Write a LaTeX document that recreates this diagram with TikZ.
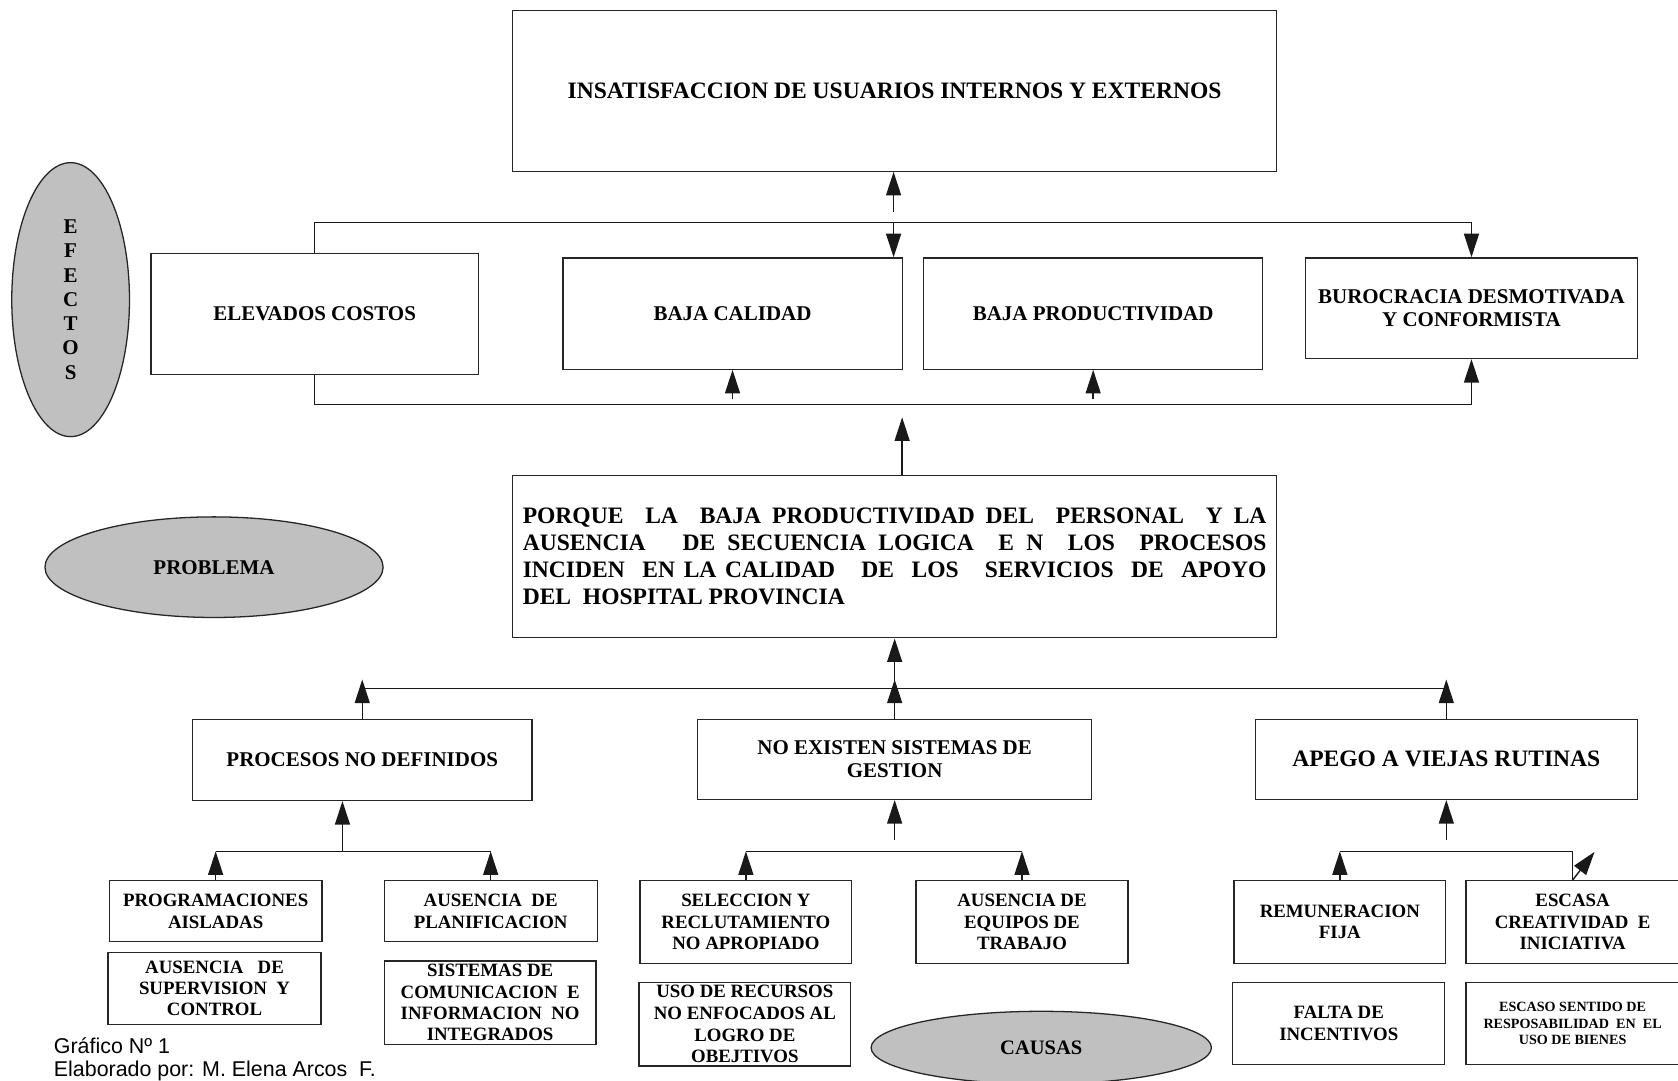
\documentclass[tikz,border=0pt]{standalone}
\usepackage{fontspec}
\setmainfont{Liberation Serif}
\newfontfamily\footfont{Liberation Sans}
\usetikzlibrary{arrows.meta,shapes.geometric}
\definecolor{shade}{RGB}{192,192,192}
\begin{document}
\begin{tikzpicture}[x=0.5pt,y=-0.5pt,
  box/.style={draw=black!85, line width=0.6pt, inner sep=0pt, align=center},
  sz/.style 2 args={minimum width=#1, minimum height=#2},
  oval/.style={ellipse, draw=black!85, line width=0.6pt, fill=shade, inner sep=0pt, align=center},
  wire/.style={draw=black!90, line width=0.65pt},
  arr/.style={wire, -{Triangle[length=11pt,width=7pt]}},
  fA/.style={font=\fontsize{9.8}{11}\selectfont\bfseries},
  fB/.style={font=\fontsize{11}{12.5}\selectfont\bfseries},
  fC/.style={font=\fontsize{8.8}{10}\selectfont\bfseries},
  fD/.style={font=\fontsize{6.6}{7.75}\selectfont\bfseries},
  foot/.style={anchor=base west, inner sep=0pt, font=\footfont\fontsize{10}{12}\selectfont},
]
\useasboundingbox (0,0) rectangle (1568,1010);
\fill[white] (0,0) rectangle (1568,1010);

% ---------- effects ----------
\node[box, fB, sz={357pt}{75pt}] (top) at (836,85) {INSATISFACCION DE USUARIOS INTERNOS Y EXTERNOS};

\node[oval, minimum width=55pt, minimum height=128pt,
      font=\fontsize{9.8}{11.33}\selectfont\bfseries] (efe) at (66,280) {E\\F\\E\\C\\T\\O\\S};

\node[box, fA, sz={153pt}{56.5pt}] (e1) at (294,293.5) {ELEVADOS COSTOS};
\node[box, fA, sz={158.5pt}{52pt}] (e2) at (684.5,293) {BAJA CALIDAD};
\node[box, fA, sz={158.5pt}{52pt}] (e3) at (1021.5,293) {BAJA PRODUCTIVIDAD};
\node[box, fA, sz={155pt}{47pt}] (e4) at (1375,288) {BUROCRACIA DESMOTIVADA\\Y CONFORMISTA};

% ---------- problem ----------
\node[oval, minimum width=158pt, minimum height=47pt, fA] (pbl) at (200,530) {PROBLEMA};

\node[box, fB, sz={357pt}{76pt}] (prob) at (836,520) {\begin{minipage}{347.5pt}%
\makebox[\linewidth][s]{PORQUE\ \ LA\ \ BAJA PRODUCTIVIDAD DEL\ \ PERSONAL\ \ Y LA}\\
\makebox[\linewidth][s]{AUSENCIA\ \ \ DE SECUENCIA LOGICA\ \ E N\ \ LOS\ \ PROCESOS}\\
\makebox[\linewidth][s]{INCIDEN\ \ EN LA CALIDAD\ \ \ DE\ \ LOS\ \ \ SERVICIOS\ \ DE\ \ APOYO}\\
DEL\ \ HOSPITAL PROVINCIA\end{minipage}};

% ---------- causes ----------
\node[box, fA, sz={158.5pt}{38pt}] (c1) at (338.5,710) {PROCESOS NO DEFINIDOS};
\node[box, fA, sz={184pt}{37.5pt}] (c2) at (836,709.5) {NO EXISTEN SISTEMAS DE\\GESTION};
\node[box, fB, sz={178.5pt}{37.5pt}] (c3) at (1351.5,709.5) {APEGO A VIEJAS RUTINAS};

\node[box, fC, sz={99.5pt}{28.5pt}] (l1) at (201.5,851.5) {PROGRAMACIONES\\AISLADAS};
\node[box, fC, sz={99.5pt}{28.5pt}] (l2) at (458.5,851.5) {AUSENCIA\ \ DE\\PLANIFICACION};
\node[box, fC, sz={99.5pt}{33.5pt}] (l3) at (200.5,923.5) {AUSENCIA\ \ \ DE\\SUPERVISION\ \ Y\\CONTROL};
\node[box, fC, sz={99pt}{39pt}] (l4) at (458,937) {SISTEMAS DE\\COMUNICACION\ \ E\\INFORMACION\ \ NO\\INTEGRADOS};

\node[box, fC, sz={99pt}{38.5pt}] (m1) at (697,861.5) {SELECCION Y\\RECLUTAMIENTO\\NO APROPIADO};
\node[box, fC, sz={99pt}{38.5pt}] (m2) at (955,861.5) {AUSENCIA DE\\EQUIPOS DE\\TRABAJO};
\node[box, font=\fontsize{8.8}{10.2}\selectfont\bfseries, sz={99pt}{39pt}] (m3) at (696,957) {USO DE RECURSOS\\NO ENFOCADOS AL\\LOGRO DE\\OBEJTIVOS};

\node[oval, minimum width=159pt, minimum height=34pt, font=\fontsize{9.6}{11}\selectfont\bfseries] (cau) at (973,979) {CAUSAS};

\node[box, fC, sz={99pt}{38.5pt}] (r1) at (1252,861.5) {REMUNERACION\\FIJA};
\node[box, fC, sz={99.5pt}{38.5pt}] (r2) at (1469.5,861.5) {ESCASA\\CREATIVIDAD\ \ E\\INICIATIVA};
\node[box, font=\fontsize{8.8}{10.5}\selectfont\bfseries, sz={99pt}{38.5pt}] (r3) at (1251,956.5) {FALTA DE\\INCENTIVOS};
\node[box, fD, sz={99.5pt}{38.5pt}] (r4) at (1469.5,956.5) {ESCASO SENTIDO DE\\RESPOSABILIDAD\ \ EN\ \ EL\\USO DE BIENES};

% ---------- footer ----------
\node[foot] (ft1) at (50,984.5) {Gráfico Nº 1};
\node[foot] (ft2) at (50,1006) {Elaborado por: M. Elena Arcos\ \ F.};

% ---------- connectors: effects ----------
\coordinate (eu) at (835,198);
\draw[arr] (eu) -- (eu |- top.south);
\coordinate (ub) at (835,208);
\draw[arr] (e1.north) |- (ub) -| (e4.north);
\draw[arr] (ub) -- (ub |- e2.north);
\coordinate (lb) at (843,378);
\draw[arr] (e1.south) |- (lb) -| (e4.south);
\coordinate (s2) at (684.5,373);
\draw[arr] (s2) -- (e2.south);
\coordinate (s3) at (1021.5,373);
\draw[arr] (s3) -- (e3.south);
\coordinate (pu) at (843,390);
\draw[arr] (prob.north -| pu) -- (pu);

% ---------- connectors: causes ----------
\coordinate (cb) at (836,643.5);
\coordinate (ct) at (836,635);
\draw[wire] (c1.north |- cb) -- (c3.north |- cb);
\draw[arr] (c1.north) -- (c1.north |- ct);
\draw[arr] (c2.north) -- (ct);
\draw[arr] (c3.north) -- (c3.north |- ct);
\draw[arr] (cb) -- (prob.south);

\coordinate (g1) at (320,795.5);
\draw[arr] (g1) -- (g1 |- c1.south);
\draw[wire] (l1.north |- g1) -- (l2.north |- g1);
\draw[arr] (l1.north) -- (l1.north |- g1);
\draw[arr] (l2.north) -- (l2.north |- g1);

\coordinate (g2) at (836,785);
\draw[arr] (g2) -- (c2.south);
\coordinate (h2) at (836,795.5);
\draw[wire] (m1.north |- h2) -- (m2.north |- h2);
\draw[arr] (m1.north) -- (m1.north |- h2);
\draw[arr] (m2.north) -- (m2.north |- h2);

\coordinate (g3) at (1351.5,785);
\draw[arr] (g3) -- (c3.south);
\coordinate (h3) at (1351.5,795.5);
\draw[wire] (r1.north |- h3) -| (r2.north);
\draw[arr] (r1.north) -- (r1.north |- h3);
\coordinate (dg) at (1490,796);
\draw[arr] (r2.north) -- (dg);
\end{tikzpicture}
\end{document}
